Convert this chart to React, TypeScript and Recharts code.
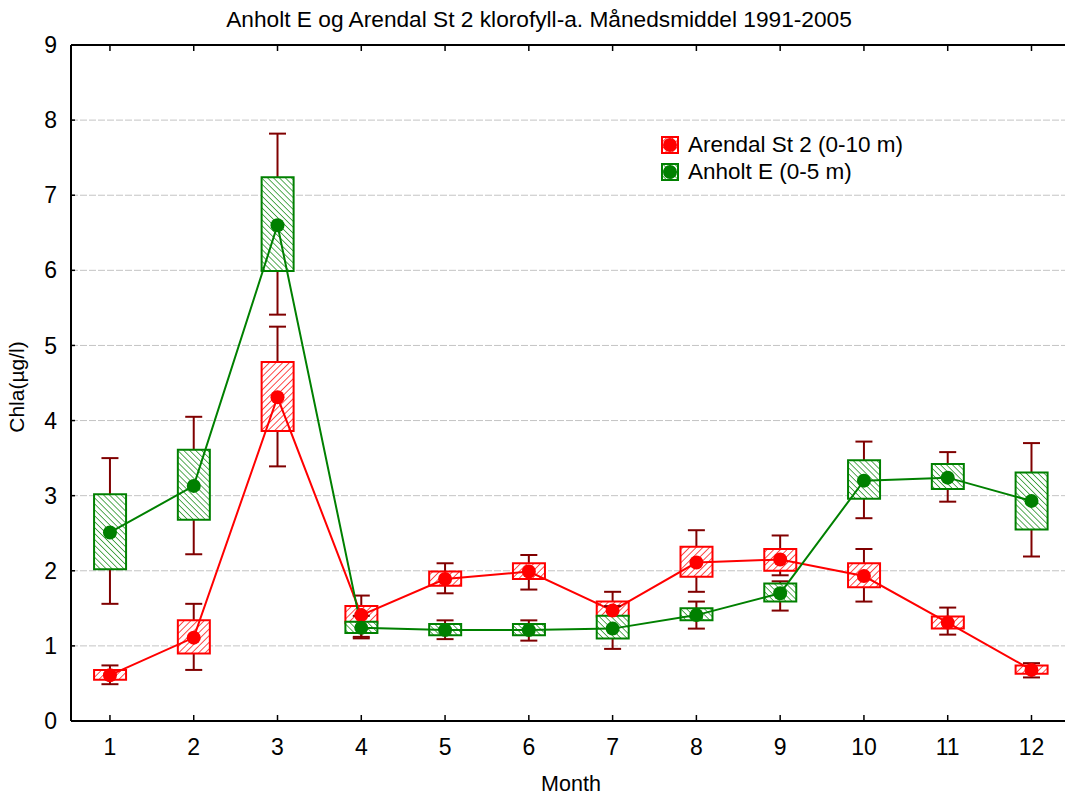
import React from "react";
import {
  ComposedChart,
  Bar,
  Line,
  ErrorBar,
  XAxis,
  YAxis,
  CartesianGrid,
  Legend,
  Label,
} from "recharts";

const FONT = "'Liberation Sans', Arial, sans-serif";
const RED = "#ff0000";
const GREEN = "#008000";
const WHISKER = "#800000";

const months = [1, 2, 3, 4, 5, 6, 7, 8, 9, 10, 11, 12];
const yTicks = [0, 1, 2, 3, 4, 5, 6, 7, 8, 9];

// Arendal St 2 (0-10 m)
const redMean = [0.61, 1.11, 4.31, 1.41, 1.89, 1.99, 1.47, 2.11, 2.15, 1.93, 1.31, 0.68];
const redBoxLo = [0.55, 0.9, 3.86, 1.3, 1.8, 1.89, 1.39, 1.92, 2.0, 1.78, 1.23, 0.63];
const redBoxHi = [0.68, 1.34, 4.78, 1.53, 1.99, 2.1, 1.59, 2.32, 2.29, 2.1, 1.39, 0.74];
const redWhiskLo = [0.49, 0.68, 3.39, 1.12, 1.7, 1.75, 1.25, 1.72, 1.94, 1.59, 1.15, 0.58];
const redWhiskHi = [0.74, 1.56, 5.25, 1.67, 2.1, 2.21, 1.72, 2.54, 2.47, 2.29, 1.51, 0.77];

// Anholt E (0-5 m)
const greenMean = [2.51, 3.13, 6.6, 1.24, 1.21, 1.21, 1.23, 1.41, 1.7, 3.2, 3.24, 2.93];
const greenBoxLo = [2.02, 2.68, 5.99, 1.17, 1.14, 1.14, 1.1, 1.34, 1.59, 2.96, 3.09, 2.55];
const greenBoxHi = [3.02, 3.61, 7.24, 1.32, 1.29, 1.29, 1.4, 1.5, 1.83, 3.47, 3.42, 3.31];
const greenWhiskLo = [1.56, 2.22, 5.41, 1.1, 1.09, 1.07, 0.96, 1.23, 1.47, 2.7, 2.92, 2.19];
const greenWhiskHi = [3.5, 4.05, 7.82, 1.4, 1.34, 1.34, 1.53, 1.59, 1.86, 3.72, 3.58, 3.7];

const legendItems = [
  { label: "Arendal St 2 (0-10 m)", color: RED, pattern: "hatchRed" },
  { label: "Anholt E (0-5 m)", color: GREEN, pattern: "hatchGreen" },
];

const X_DOMAIN: [number, number] = [0.535, 12.4];

const data = months.map((m, i) => ({
  month: m,
  rMean: redMean[i],
  rBox: [redBoxLo[i], redBoxHi[i]],
  rErr: [redMean[i] - redWhiskLo[i], redWhiskHi[i] - redMean[i]],
  gMean: greenMean[i],
  gBox: [greenBoxLo[i], greenBoxHi[i]],
  gErr: [greenMean[i] - greenWhiskLo[i], greenWhiskHi[i] - greenMean[i]],
}));

const renderLegend = () => (
  <div style={{ fontFamily: FONT, fontSize: 22.5, color: "#000" }}>
    {legendItems.map((it) => (
      <div key={it.label} style={{ display: "flex", alignItems: "center", height: 27 }}>
        <svg width={18} height={18} style={{ marginRight: 9, flexShrink: 0 }}>
          <rect x={1} y={1} width={16} height={16} fill={`url(#${it.pattern})`} stroke={it.color} strokeWidth={2} />
          <circle cx={9} cy={9} r={7} fill={it.color} />
        </svg>
        <span style={{ whiteSpace: "nowrap" }}>{it.label}</span>
      </div>
    ))}
  </div>
);

// top axis: tick marks only, no labels
const noLabel = () => <g />;

export default function App() {
  const tickStyle = { fill: "#000", fontSize: 23, fontFamily: FONT };
  return (
    <div style={{ position: "relative", width: 1065, height: 798 }}>
      <style>{`body{margin:0}`}</style>
      <div
        style={{
          position: "absolute",
          top: 7.8,
          left: 539,
          transform: "translateX(-50%)",
          whiteSpace: "nowrap",
          fontFamily: FONT,
          fontSize: 22.7,
          lineHeight: 1,
          color: "#000",
          zIndex: 2,
        }}
      >
        Anholt E og Arendal St 2 klorofyll-a. Månedsmiddel 1991-2005
      </div>
      <ComposedChart
        width={1065}
        height={798}
        data={data}
        margin={{ top: 44, right: 0, bottom: 0, left: 0 }}
      >
        <defs>
          <pattern id="hatchRed" patternUnits="userSpaceOnUse" width={4.7} height={4.7} patternTransform="rotate(45)">
            <rect width={4.7} height={4.7} fill="#fff" />
            <line x1={0} y1={0} x2={0} y2={4.7} stroke={RED} strokeWidth={1.4} />
          </pattern>
          <pattern id="hatchGreen" patternUnits="userSpaceOnUse" width={4.2} height={4.2} patternTransform="rotate(-45)">
            <rect width={4.2} height={4.2} fill="#fff" />
            <line x1={0} y1={0} x2={0} y2={4.2} stroke={GREEN} strokeWidth={1.3} />
          </pattern>
        </defs>
        <CartesianGrid horizontal vertical={false} stroke="#c4c4c4" strokeDasharray="7 2" xAxisId="main" />
        <XAxis
          xAxisId="main"
          type="number"
          dataKey="month"
          domain={X_DOMAIN}
          ticks={months}
          allowDataOverflow
          height={77}
          tickSize={-6}
          tickMargin={24}
          tick={tickStyle}
          axisLine={{ stroke: "#000", strokeWidth: 2 }}
          tickLine={{ stroke: "#000", strokeWidth: 1.5 }}
        >
          <Label
            content={({ viewBox }: any) => (
              <text
                x={viewBox.x + viewBox.width / 2 + 3}
                y={viewBox.y + 70}
                textAnchor="middle"
                fontFamily={FONT}
                fontSize={21.5}
                fill="#000"
              >
                Month
              </text>
            )}
          />
        </XAxis>
        <XAxis
          xAxisId="top"
          orientation="top"
          type="number"
          dataKey="month"
          domain={X_DOMAIN}
          ticks={months}
          allowDataOverflow
          height={1}
          tick={noLabel}
          tickSize={-6}
          axisLine={{ stroke: "#000", strokeWidth: 2 }}
          tickLine={{ stroke: "#000", strokeWidth: 1.5 }}
        />
        <XAxis xAxisId="r" type="number" dataKey="month" domain={X_DOMAIN} allowDataOverflow hide height={0} />
        <XAxis xAxisId="g" type="number" dataKey="month" domain={X_DOMAIN} allowDataOverflow hide height={0} />
        <YAxis
          type="number"
          domain={[0, 9]}
          ticks={yTicks}
          allowDataOverflow
          width={71}
          tickSize={-4}
          tickMargin={18}
          tick={tickStyle}
          axisLine={{ stroke: "#000", strokeWidth: 2 }}
          tickLine={{ stroke: "#000", strokeWidth: 1.5 }}
        >
          <Label
            content={({ viewBox }: any) => {
              const cy = viewBox.y + viewBox.height / 2 + 4;
              return (
                <text
                  x={23.5}
                  y={cy}
                  transform={`rotate(-90 23.5 ${cy})`}
                  textAnchor="middle"
                  fontFamily={FONT}
                  fontSize={21}
                  fill="#000"
                >
                  Chla(µg/l)
                </text>
              );
            }}
          />
        </YAxis>
        <Legend
          content={renderLegend}
          layout="vertical"
          align="center"
          verticalAlign="middle"
          wrapperStyle={{ top: 131.5, left: 661, width: 300, height: 54 }}
        />

        {/* Arendal */}
        <Line
          xAxisId="main"
          dataKey="rMean"
          stroke="none"
          dot={false}
          legendType="none"
          isAnimationActive={false}
          zIndex={310}
        >
          <ErrorBar dataKey="rErr" direction="y" width={8.5} stroke={WHISKER} strokeWidth={2} isAnimationActive={false} zIndex={310} />
        </Line>
        <Bar
          xAxisId="r"
          dataKey="rBox"
          barSize={32}
          fill="url(#hatchRed)"
          stroke={RED}
          strokeWidth={2}
          isAnimationActive={false}
          zIndex={320}
        />
        <Line
          xAxisId="main"
          dataKey="rMean"
          stroke={RED}
          strokeWidth={2}
          dot={{ r: 7, fill: RED, stroke: RED, strokeWidth: 0 }}
          activeDot={false}
          isAnimationActive={false}
          zIndex={330}
        />

        {/* Anholt */}
        <Line
          xAxisId="main"
          dataKey="gMean"
          stroke="none"
          dot={false}
          legendType="none"
          isAnimationActive={false}
          zIndex={340}
        >
          <ErrorBar dataKey="gErr" direction="y" width={8.5} stroke={WHISKER} strokeWidth={2} isAnimationActive={false} zIndex={340} />
        </Line>
        <Bar
          xAxisId="g"
          dataKey="gBox"
          barSize={32}
          fill="url(#hatchGreen)"
          stroke={GREEN}
          strokeWidth={2}
          isAnimationActive={false}
          zIndex={350}
        />
        <Line
          xAxisId="main"
          dataKey="gMean"
          stroke={GREEN}
          strokeWidth={2}
          dot={{ r: 7, fill: GREEN, stroke: GREEN, strokeWidth: 0 }}
          activeDot={false}
          isAnimationActive={false}
          zIndex={360}
        />
      </ComposedChart>
    </div>
  );
}
